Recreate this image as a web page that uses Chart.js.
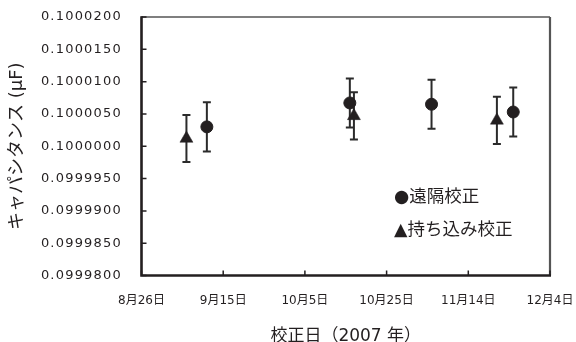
<!DOCTYPE html>
<html>
<head>
<meta charset="utf-8">
<script src="https://cdn.jsdelivr.net/npm/chart.js@4.4.0/dist/chart.umd.min.js"></script>
<style>
  html, body { margin: 0; padding: 0; background: #fff; }
  #wrap { width: 576px; height: 342px; }
</style>
</head>
<body>
<div id="wrap"><canvas id="chart"></canvas></div>
<script>
const startDate = '2007-08-26';

// 遠隔校正
const remoteDates = ['2007-09-11', '2007-10-16', '2007-11-05', '2007-11-25'];
const remoteValues = [0.1000030, 0.1000067, 0.1000065, 0.1000053];
const remoteErrors = [0.0000038, 0.0000038, 0.0000038, 0.0000038];

// 持ち込み校正
const carryDates = ['2007-09-06', '2007-10-17', '2007-11-21'];
const carryValues = [0.1000012, 0.1000047, 0.1000040];
const carryErrors = [0.00000365, 0.00000365, 0.00000365];

const xTickDays = [0, 20, 40, 60, 80, 100];
const xTickLabels = ['8月26日', '9月15日', '10月5日', '10月25日', '11月14日', '12月4日'];
const yTicks = [0.0999800, 0.0999850, 0.0999900, 0.0999950, 0.1000000, 0.1000050, 0.1000100, 0.1000150, 0.1000200];

const ink = '#231f20';

function dayOf(d) {
    return (Date.parse(d) - Date.parse(startDate)) / 86400000;
}

function toPoints(dates, values) {
    return dates.map((d, i) => ({ x: dayOf(d), y: values[i] }));
}

const errorsByDataset = [remoteErrors, carryErrors];

const errorBars = {
    id: 'errorBars',
    beforeDatasetsDraw(chart) {
        const { ctx, scales: { x, y } } = chart;
        ctx.save();
        ctx.strokeStyle = '#2b2b2b';
        ctx.lineWidth = 2;
        chart.data.datasets.forEach((ds, i) => {
            const errs = errorsByDataset[i];
            ds.data.forEach((p, j) => {
                const px = x.getPixelForValue(p.x);
                const top = y.getPixelForValue(p.y + errs[j]);
                const bot = y.getPixelForValue(p.y - errs[j]);
                ctx.beginPath();
                ctx.moveTo(px, top);
                ctx.lineTo(px, bot);
                ctx.moveTo(px - 4, top);
                ctx.lineTo(px + 4, top);
                ctx.moveTo(px - 4, bot);
                ctx.lineTo(px + 4, bot);
                ctx.stroke();
            });
        });
        ctx.restore();
    }
};

const frameAndLabels = {
    id: 'frameAndLabels',
    afterDraw(chart) {
        const { ctx, chartArea: a, scales: { x, y } } = chart;
        ctx.save();
        // frame
        ctx.strokeStyle = '#555';
        ctx.lineWidth = 1.6;
        ctx.beginPath();
        ctx.moveTo(a.left, a.top);
        ctx.lineTo(a.right, a.top);
        ctx.stroke();
        ctx.lineWidth = 2.2;
        ctx.beginPath();
        ctx.moveTo(a.right, a.top);
        ctx.lineTo(a.right, a.bottom);
        ctx.stroke();
        ctx.strokeStyle = ink;
        ctx.lineWidth = 2.6;
        ctx.beginPath();
        ctx.moveTo(a.left, a.top - 0.8);
        ctx.lineTo(a.left, a.bottom);
        ctx.lineTo(a.right + 1, a.bottom);
        ctx.stroke();

        // inward ticks
        ctx.lineWidth = 1.5;
        ctx.beginPath();
        y.ticks.forEach(t => {
            const py = y.getPixelForValue(t.value);
            ctx.moveTo(a.left, py);
            ctx.lineTo(a.left + 5, py);
        });
        x.ticks.forEach(t => {
            const px = x.getPixelForValue(t.value);
            ctx.moveTo(px, a.bottom);
            ctx.lineTo(px, a.bottom - 5);
        });
        ctx.stroke();

        // y tick labels
        ctx.fillStyle = ink;
        ctx.font = '13px "DejaVu Sans", "Noto Sans CJK JP"';
        ctx.letterSpacing = '1.2px';
        ctx.textAlign = 'right';
        ctx.textBaseline = 'middle';
        y.ticks.forEach(t => {
            ctx.fillText(t.value.toFixed(7), a.left - 19.5, y.getPixelForValue(t.value));
        });

        // legend
        ctx.letterSpacing = '0px';
        ctx.textAlign = 'left';
        ctx.font = '17.5px "DejaVu Sans", "Noto Sans CJK JP"';
        ctx.fillText('●遠隔校正', 394, 197);
        ctx.fillText('▲持ち込み校正', 394, 230);
        ctx.restore();
    }
};

const ctx = document.getElementById('chart').getContext('2d');
new Chart(ctx, {
    type: 'scatter',
    data: {
        datasets: [
            {
                label: '遠隔校正',
                data: toPoints(remoteDates, remoteValues),
                pointStyle: 'circle',
                pointRadius: 6,
                backgroundColor: ink,
                borderColor: ink,
                borderWidth: 1
            },
            {
                label: '持ち込み校正',
                data: toPoints(carryDates, carryValues),
                pointStyle: 'triangle',
                pointRadius: 7.5,
                backgroundColor: ink,
                borderColor: ink,
                borderWidth: 0.5
            }
        ]
    },
    options: {
        responsive: true,
        maintainAspectRatio: false,
        animation: false,
        layout: { padding: { left: 0, top: 17, right: 26, bottom: 0 } },
        plugins: {
            legend: { display: false },
            tooltip: { enabled: false }
        },
        scales: {
            x: {
                type: 'linear',
                min: 0,
                max: 100,
                afterBuildTicks: scale => { scale.ticks = xTickDays.map(v => ({ value: v })); },
                afterFit: scale => {
                    scale.height = 66.5;
                    scale.paddingLeft = 0;
                    scale.paddingRight = 0;
                },
                grid: { display: false },
                border: { display: false },
                ticks: {
                    autoSkip: false,
                    maxRotation: 0,
                    padding: 10,
                    color: ink,
                    font: { family: '"DejaVu Sans", "Noto Sans CJK JP"', size: 12 },
                    callback: v => xTickLabels[xTickDays.indexOf(v)]
                },
                title: {
                    display: true,
                    text: '校正日（2007 年）',
                    color: ink,
                    font: { family: '"DejaVu Sans", "Noto Sans CJK JP"', size: 17, lineHeight: 1 },
                    padding: { top: 0, bottom: -3 }
                }
            },
            y: {
                min: 0.09998,
                max: 0.10002,
                afterBuildTicks: scale => { scale.ticks = yTicks.map(v => ({ value: v })); },
                afterFit: scale => {
                    scale.width = 141.5;
                    scale.paddingTop = 0;
                    scale.paddingBottom = 0;
                },
                grid: { display: false },
                border: { display: false },
                ticks: { display: false },
                title: {
                    display: true,
                    text: 'キャパシタンス (μF)',
                    color: ink,
                    font: { family: '"DejaVu Sans", "Noto Sans CJK JP"', size: 18, lineHeight: 1.2 },
                    padding: { top: 7, bottom: 0 }
                }
            }
        }
    },
    plugins: [errorBars, frameAndLabels]
});
</script>
</body>
</html>
